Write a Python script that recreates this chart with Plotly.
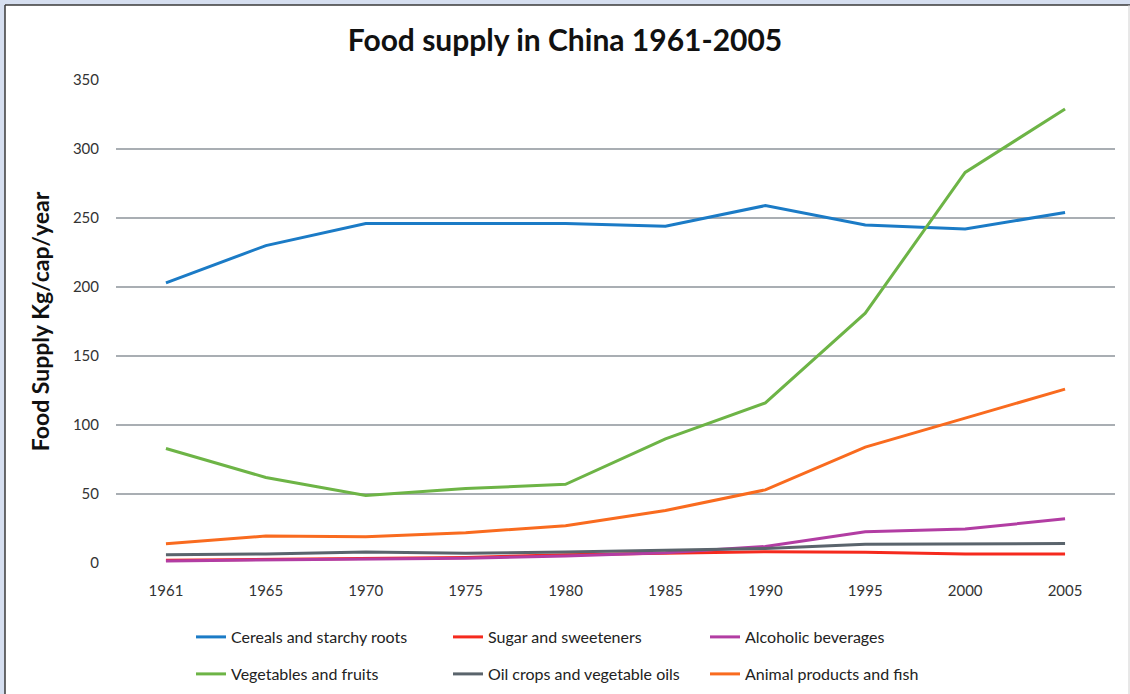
import plotly.graph_objects as go

years = ["1961", "1965", "1970", "1975", "1980", "1985", "1990", "1995", "2000", "2005"]

cereals = [203, 230, 246, 246, 246, 244, 259, 245, 242, 254]
sugar = [2, 2.5, 3, 4, 6, 7, 8.2, 7.7, 6.5, 6.5]
alcohol = [1.5, 2, 2.5, 3.5, 5, 7.5, 12, 22.7, 24.6, 32]
vegetables = [83, 62, 49, 54, 57, 90, 116, 181, 283, 329]
oil = [6, 6.5, 8, 7, 8, 9.5, 10.5, 13.5, 13.8, 14.2]
animal = [14, 19.5, 19, 22, 27, 38, 53, 84, 105, 126]

series = [
    ("Cereals and starchy roots", cereals, "#1b7bc6", "legend"),
    ("Sugar and sweeteners", sugar, "#f52a1e", "legend"),
    ("Alcoholic beverages", alcohol, "#b23da3", "legend"),
    ("Vegetables and fruits", vegetables, "#6db446", "legend2"),
    ("Oil crops and vegetable oils", oil, "#5a646c", "legend2"),
    ("Animal products and fish", animal, "#f96b1f", "legend2"),
]

W, H = 1130, 694
FONT = "Lato, 'Open Sans', sans-serif"

fig = go.Figure()
for name, vals, col, lg in series:
    fig.add_trace(go.Scatter(x=years, y=vals, mode="lines", name=name, legend=lg,
                             line=dict(color=col, width=3)))

# plot area: x 116..1115 px, y 80..563 px
PL, PR, PT, PB = 116, 1115, 80, 563
def px(x):
    return (x - PL) / (PR - PL)
def py(y):
    return (PB - y) / (PB - PT)

leg_common = dict(orientation="h", xref="container", yref="container",
                  xanchor="left", yanchor="top",
                  entrywidth=212, entrywidthmode="pixels",
                  font=dict(size=16, color="#222222", family=FONT),
                  bgcolor="rgba(0,0,0,0)")

fig.update_layout(
    width=W, height=H,
    margin=dict(l=PL, r=W - PR, t=PT, b=H - PB, autoexpand=False),
    paper_bgcolor="#d6dff0",
    plot_bgcolor="rgba(0,0,0,0)",
    font=dict(family=FONT, color="#333333"),
    title=dict(text="<b>Food supply in China 1961-2005</b>", x=0.5, xref="container",
               y=1 - 40 / H, yref="container", yanchor="middle", xanchor="center",
               font=dict(size=30, color="#111111", family=FONT)),
    showlegend=True,
    legend=dict(leg_common, x=191 / W, y=1 - 620 / H),
    legend2=dict(leg_common, x=191 / W, y=1 - 657 / H),
    shapes=[
        dict(type="rect", xref="paper", yref="paper", layer="below",
             x0=px(5), x1=px(1140), y0=py(705), y1=py(5),
             fillcolor="white", line=dict(width=0)),
        dict(type="line", xref="paper", yref="paper", layer="below",
             x0=px(5), x1=px(5), y0=py(705), y1=py(5),
             line=dict(color="#3a3a3a", width=1.5)),
        dict(type="line", xref="paper", yref="paper", layer="below",
             x0=px(5), x1=px(1140), y0=py(5), y1=py(5),
             line=dict(color="#3a3a3a", width=1.5)),
        dict(type="line", xref="paper", yref="paper", layer="below",
             x0=px(1129), x1=px(1129), y0=py(705), y1=py(5),
             line=dict(color="#d0d0d0", width=1)),
    ],
)

fig.update_xaxes(type="category", range=[-0.5, 9.5], showgrid=False, zeroline=False,
                 showline=False, ticks="", ticklabelstandoff=17,
                 tickfont=dict(size=15, color="#333333", family=FONT))
fig.update_yaxes(range=[0, 350], dtick=50, showgrid=True, gridcolor="#a9aeb3", gridwidth=2,
                 zeroline=False, showline=False, ticks="", ticklabelstandoff=16,
                 tickfont=dict(size=15, color="#333333", family=FONT),
                 title=dict(text="<b>Food Supply Kg/cap/year</b>", standoff=16,
                            font=dict(size=23, color="#111111", family=FONT)))

fig.write_html("out.html")
